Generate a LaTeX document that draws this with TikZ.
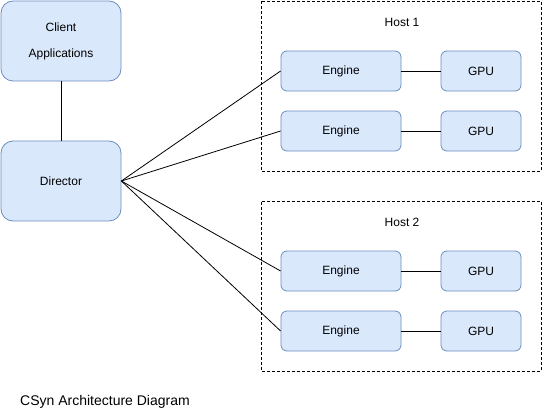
\documentclass[tikz,border=0pt]{standalone}
\usepackage{fontspec}
\setmainfont{Liberation Sans}
\definecolor{boxfill}{HTML}{DAE8FC}
\definecolor{boxline}{HTML}{6C8EBF}
\begin{document}
\begin{tikzpicture}[x=1pt,y=-1pt,
  bigbox/.style={draw=boxline,fill=boxfill,line width=0.8pt,rounded corners=12pt,minimum width=120pt,minimum height=80pt,inner sep=0pt,font=\fontsize{12}{26}\selectfont,align=center},
  smallbox/.style={draw=boxline,fill=boxfill,line width=0.8pt,rounded corners=6pt,minimum height=40pt,inner sep=0pt,font=\fontsize{12}{14}\selectfont},
  hostbox/.style={draw=black,dash pattern=on 3pt off 2pt,line width=0.8pt},
  link/.style={draw=black,line width=0.8pt},
  lbl/.style={font=\fontsize{12}{14}\selectfont,inner sep=0pt}]
\useasboundingbox (0,0) rectangle (543,412);
% host frames
\draw[hostbox] (261.5,1.5) rectangle (541,171);
\draw[hostbox] (261.5,201.5) rectangle (541,371);
\node[lbl] (h1) at (402,22) {Host 1};
\node[lbl] (h2) at (402,222) {Host 2};
% left nodes
\node[bigbox] (client) at (61,41) {Client\\Applications};
\node[bigbox] (dir) at (61,181) {Director};
% engines and gpus
\node[smallbox,minimum width=120pt] (e1) at (341,71) {Engine};
\node[smallbox,minimum width=120pt] (e2) at (341,131) {Engine};
\node[smallbox,minimum width=120pt] (e3) at (341,271) {Engine};
\node[smallbox,minimum width=120pt] (e4) at (341,331) {Engine};
\node[smallbox,minimum width=80pt] (g1) at (481,71) {GPU};
\node[smallbox,minimum width=80pt] (g2) at (481,131) {GPU};
\node[smallbox,minimum width=80pt] (g3) at (481,271) {GPU};
\node[smallbox,minimum width=80pt] (g4) at (481,331) {GPU};
% connectors
\draw[link] (client) -- (dir);
\foreach \e in {e1,e2,e3,e4}{\draw[link] (dir.east) -- (\e.west);}
\draw[link] (e1) -- (g1);
\draw[link] (e2) -- (g2);
\draw[link] (e3) -- (g3);
\draw[link] (e4) -- (g4);
% caption
\node[anchor=west,inner sep=0pt,font=\fontsize{14}{16}\selectfont] (cap) at (20,402) {CSyn Architecture Diagram};
\end{tikzpicture}
\end{document}
